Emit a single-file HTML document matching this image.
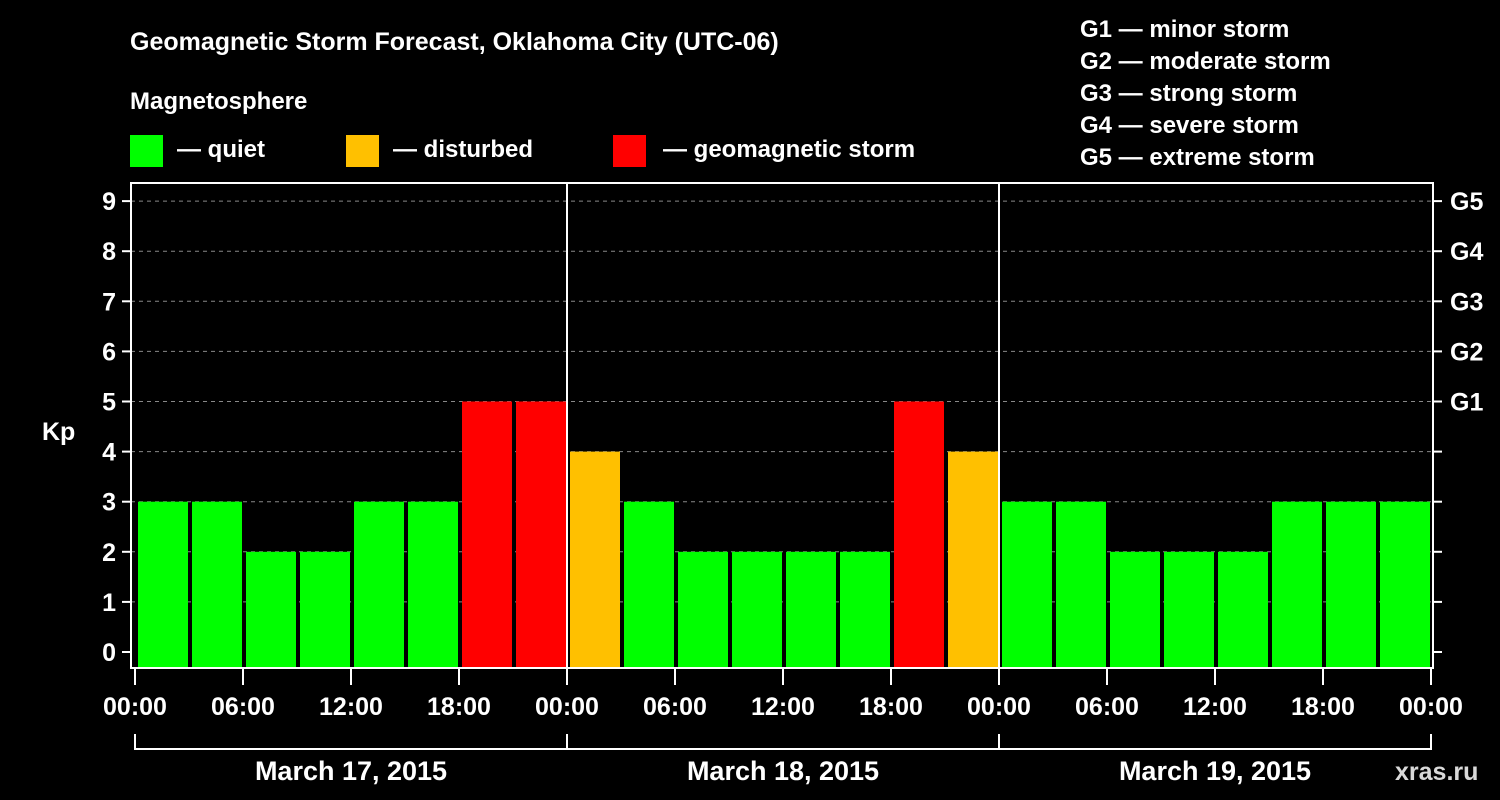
<!DOCTYPE html>
<html><head><meta charset="utf-8"><style>
html,body{margin:0;padding:0;background:#000;}
svg{display:block;font-family:"Liberation Sans",sans-serif;font-weight:bold;}
</style></head><body>
<svg id="chart" width="1500" height="800" viewBox="0 0 1500 800" xmlns="http://www.w3.org/2000/svg">
<rect width="1500" height="800" fill="#000"/>
<text x="130" y="50" fill="#fff" font-size="25">Geomagnetic Storm Forecast, Oklahoma City (UTC-06)</text>
<text x="130" y="109" fill="#fff" font-size="24">Magnetosphere</text>
<rect x="130" y="135" width="33" height="32" fill="#00ff00"/>
<text x="177" y="157" fill="#fff" font-size="24">— quiet</text>
<rect x="346" y="135" width="33" height="32" fill="#ffc000"/>
<text x="393" y="157" fill="#fff" font-size="24">— disturbed</text>
<rect x="613" y="135" width="33" height="32" fill="#ff0000"/>
<text x="663" y="157" fill="#fff" font-size="24">— geomagnetic storm</text>
<g fill="#fff" font-size="24">
<text x="1080" y="37">G1 — minor storm</text>
<text x="1080" y="69">G2 — moderate storm</text>
<text x="1080" y="101">G3 — strong storm</text>
<text x="1080" y="133">G4 — severe storm</text>
<text x="1080" y="165">G5 — extreme storm</text>
</g>
<text x="42" y="440" fill="#fff" font-size="25">Kp</text>
<text x="1395" y="780" fill="#fff" font-size="25" opacity="0.85">xras.ru</text>
<g id="grid"></g><g id="bars"></g><g id="axes"></g>
</svg>
<script>
const days = ["March 17, 2015","March 18, 2015","March 19, 2015"];
const kpValues = [3,3,2,2,3,3,5,5, 4,3,2,2,2,2,5,4, 3,3,2,2,2,3,3,3];
const yTicks = [0,1,2,3,4,5,6,7,8,9];
const gLabels = ["G1","G2","G3","G4","G5"];
const gLevels = [5,6,7,8,9];
const xTickLabels = ["00:00","06:00","12:00","18:00","00:00","06:00","12:00","18:00","00:00","06:00","12:00","18:00","00:00"];

const NS="http://www.w3.org/2000/svg";
const L=131,R=1433,T=183,B=668;
const X0=135,DAYW=432;
function yScale(v){return 652-v*50.1;}
function xScale(h){return X0+h/24*DAYW;}
function mk(tag,attrs,parent){const e=document.createElementNS(NS,tag);for(const k in attrs)e.setAttribute(k,attrs[k]);parent.appendChild(e);return e;}
const grid=document.getElementById('grid'),bars=document.getElementById('bars'),axes=document.getElementById('axes');

yTicks.forEach(v=>{
  const y=yScale(v);
  if(v>0){const g=mk('line',{x1:L,x2:R,y1:y,y2:y,stroke:'#888','stroke-dasharray':'4,4','stroke-width':1},grid);
  
  }
  mk('line',{x1:122,x2:L,y1:y,y2:y,stroke:'#fff','stroke-width':2},axes);
  mk('line',{x1:R,x2:1442,y1:y,y2:y,stroke:'#fff','stroke-width':2},axes);
  const t=mk('text',{x:116,y:y+9,fill:'#fff','font-size':25,'text-anchor':'end'},axes);
  t.textContent=v;
  
  
});
gLabels.forEach((g,i)=>{
  const t=mk('text',{x:1450,y:yScale(gLevels[i])+9,fill:'#fff','font-size':25},axes);
  t.textContent=g;
  
  
});
kpValues.forEach((v,i)=>{
  const x=xScale(i*3)+3,w=xScale((i+1)*3)-1-x;
  const col=v>=5?'#ff0000':(v>=4?'#ffc000':'#00ff00');
  const r=mk('rect',{x:x,y:yScale(v),width:w,height:B-yScale(v),fill:col},bars);
  
  
});
mk('rect',{x:L,y:T,width:R-L,height:B-T,fill:'none',stroke:'#fff','stroke-width':2},axes);
[1,2].forEach(d=>{const x=xScale(d*24);mk('line',{x1:x,x2:x,y1:T,y2:B,stroke:'#fff','stroke-width':2},axes);});
xTickLabels.forEach((lab,i)=>{
  const x=xScale(i*6);
  mk('line',{x1:x,x2:x,y1:B,y2:B+17,stroke:'#fff','stroke-width':2},axes);
  const t=mk('text',{x:x,y:715,fill:'#fff','font-size':25,'text-anchor':'middle'},axes);
  t.textContent=lab;
  
  
});
mk('line',{x1:X0,x2:xScale(72),y1:749,y2:749,stroke:'#fff','stroke-width':2},axes);
[0,1,2,3].forEach(d=>{const x=xScale(d*24);mk('line',{x1:x,x2:x,y1:734,y2:750,stroke:'#fff','stroke-width':2},axes);});
days.forEach((d,i)=>{
  const t=mk('text',{x:xScale(i*24+12),y:780,fill:'#fff','font-size':27,'text-anchor':'middle'},axes);
  t.textContent=d;
  
  
});
</script>
</body></html>
